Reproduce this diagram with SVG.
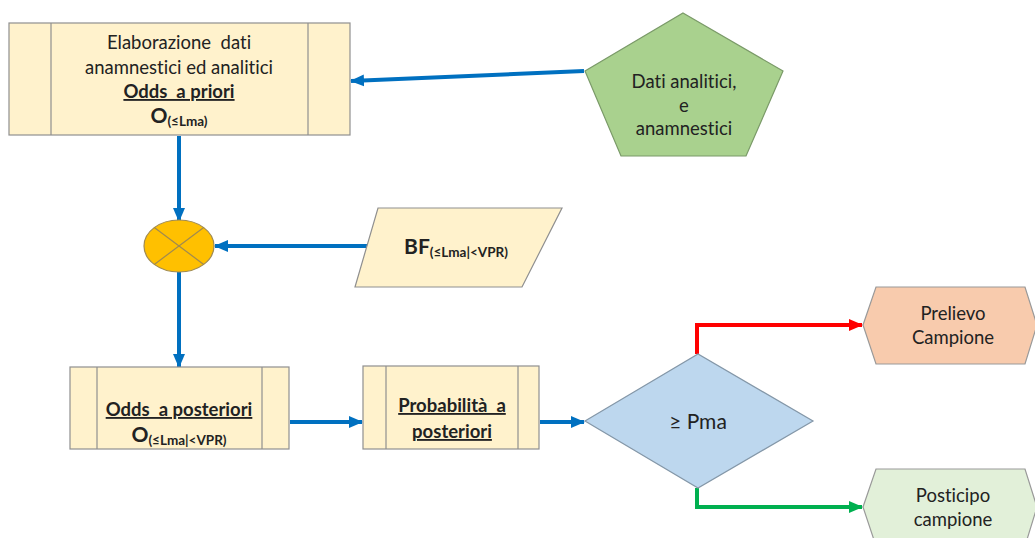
<svg xmlns="http://www.w3.org/2000/svg" width="1035" height="538" viewBox="0 0 1035 538">
<style>
.proc{fill:#FFF2CC;stroke:#8F8F8F;stroke-width:1.2}
.t{font-family:Lato,"Liberation Sans",sans-serif;font-size:18.5px;fill:#222;text-anchor:middle;font-variant-ligatures:none;white-space:pre}
.b{font-weight:bold}
.u{text-decoration:underline}
.big{font-size:21px}
.sub{font-size:13.5px}
.blue{stroke:#0070C0;stroke-width:4;fill:none}
</style>
<defs>
<marker id="ab" markerUnits="userSpaceOnUse" markerWidth="14" markerHeight="14" viewBox="0 0 14 14" refX="13" refY="7" orient="auto"><path d="M0,1 L14,7 L0,13 Z" fill="#0070C0"/></marker>
<marker id="ar" markerUnits="userSpaceOnUse" markerWidth="14" markerHeight="14" viewBox="0 0 14 14" refX="13" refY="7" orient="auto"><path d="M0,1 L14,7 L0,13 Z" fill="#FF0000"/></marker>
<marker id="ag" markerUnits="userSpaceOnUse" markerWidth="14" markerHeight="14" viewBox="0 0 14 14" refX="13" refY="7" orient="auto"><path d="M0,1 L14,7 L0,13 Z" fill="#00B050"/></marker>
</defs>
<rect width="1035" height="538" fill="#fff"/>
<g id="connectors">
<path class="blue" d="M584,71 L351,81" marker-end="url(#ab)"/>
<path class="blue" d="M179,136 L179,221" marker-end="url(#ab)"/>
<path class="blue" d="M373,246 L215,246" marker-end="url(#ab)"/>
<path class="blue" d="M179,272 L179,367" marker-end="url(#ab)"/>
<path class="blue" d="M290,422 L362,422" marker-end="url(#ab)"/>
<path class="blue" d="M540,422 L584,422" marker-end="url(#ab)"/>
<path d="M697,354 L697,325 L862,325" stroke="#FF0000" stroke-width="4" fill="none" marker-end="url(#ar)"/>
<path d="M697,488 L697,507 L862,507" stroke="#00B050" stroke-width="4" fill="none" marker-end="url(#ag)"/>
</g>
<g id="elaborazione">
<rect class="proc" x="9" y="23" width="341" height="112"/>
<line class="proc" x1="51" y1="23" x2="51" y2="135"/>
<line class="proc" x1="308" y1="23" x2="308" y2="135"/>
<text class="t" x="179" y="49">Elaborazione  dati</text>
<text class="t" x="179" y="74">anamnestici ed analitici</text>
<text class="t b u" x="179" y="98">Odds  a priori</text>
<text class="t b" x="179" y="123"><tspan class="big">O</tspan><tspan class="sub" dy="3">(≤Lma)</tspan></text>
</g>
<g id="dati">
<polygon points="683,13 783,71 746,156 621,156 585,71" fill="#A9D18E" stroke="#7A9A68" stroke-width="1.2"/>
<text class="t" x="684" y="88">Dati analitici,</text>
<text class="t" x="684" y="112">e</text>
<text class="t" x="684" y="135">anamnestici</text>
</g>
<g id="mult">
<ellipse cx="179" cy="246" rx="35" ry="26" fill="#FFC000" stroke="#A08A50" stroke-width="1.2"/>
<line x1="154.3" y1="227.6" x2="203.7" y2="264.4" stroke="#A08A50" stroke-width="1.2"/>
<line x1="203.7" y1="227.6" x2="154.3" y2="264.4" stroke="#A08A50" stroke-width="1.2"/>
</g>
<g id="bf">
<polygon points="378,208 562,208 522,287 355,287" class="proc"/>
<text class="t b" x="456" y="254"><tspan class="big">BF</tspan><tspan class="sub" dy="3">(≤Lma|&lt;VPR)</tspan></text>
</g>
<g id="posteriori">
<rect class="proc" x="70" y="367" width="219" height="82"/>
<line class="proc" x1="97" y1="367" x2="97" y2="449"/>
<line class="proc" x1="262" y1="367" x2="262" y2="449"/>
<text class="t b u" x="179" y="416">Odds  a posteriori</text>
<text class="t b" x="179" y="442"><tspan class="big">O</tspan><tspan class="sub" dy="3">(≤Lma|&lt;VPR)</tspan></text>
</g>
<g id="probabilita">
<rect class="proc" x="363" y="366" width="176" height="83"/>
<line class="proc" x1="386" y1="366" x2="386" y2="449"/>
<line class="proc" x1="518" y1="366" x2="518" y2="449"/>
<text class="t b u" x="452" y="412">Probabilità  a</text>
<text class="t b u" x="452" y="438">posteriori</text>
</g>
<g id="decision">
<polygon points="585,421 698,354 813,421 698,488" fill="#BDD7EE" stroke="#8497A8" stroke-width="1.2"/>
<text class="t big" x="698" y="429">≥ Pma</text>
</g>
<g id="prelievo">
<polygon points="863,325 876,287 1025,287 1037,325 1025,364 876,364" fill="#F8CBAD" stroke="#999" stroke-width="1.2"/>
<text class="t" x="953" y="320">Prelievo</text>
<text class="t" x="953" y="344">Campione</text>
</g>
<g id="posticipo">
<polygon points="863,507 876,469 1025,469 1037,507 1025,546 876,546" fill="#E2F0D9" stroke="#999" stroke-width="1.2"/>
<text class="t" x="953" y="502">Posticipo</text>
<text class="t" x="953" y="526">campione</text>
</g>
</svg>
